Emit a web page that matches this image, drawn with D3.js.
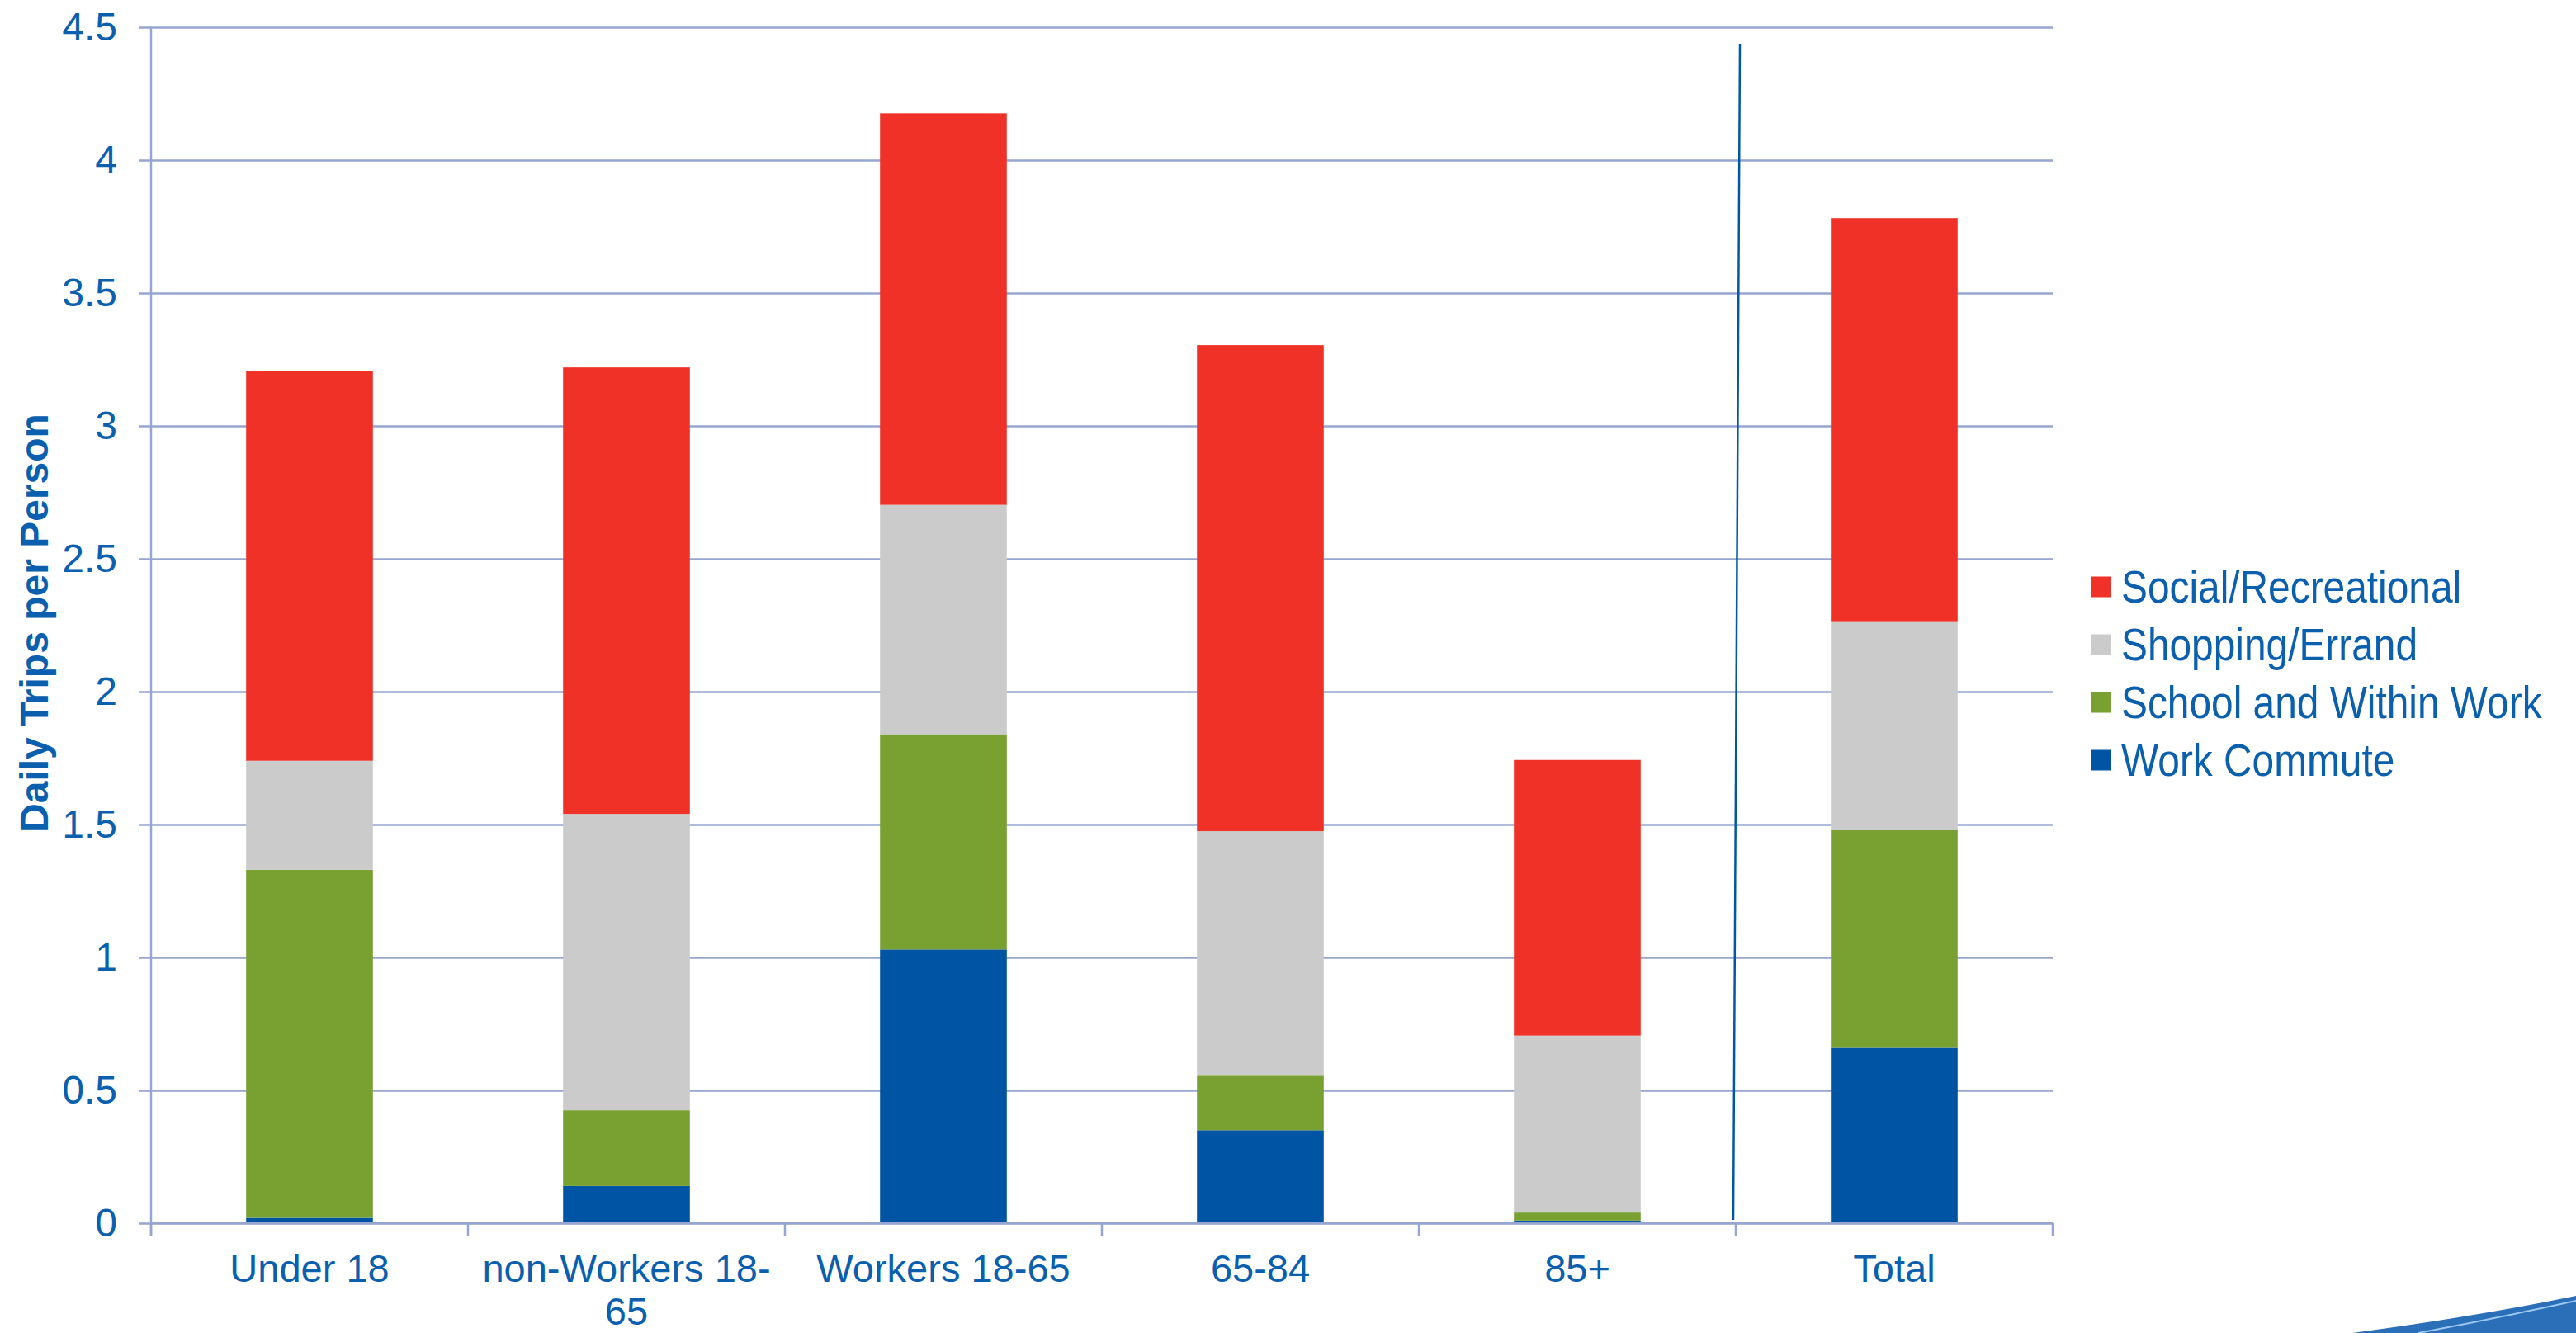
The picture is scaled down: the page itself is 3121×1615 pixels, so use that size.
<!DOCTYPE html>
<html>
<head>
<meta charset="utf-8">
<script src="https://cdn.jsdelivr.net/npm/d3@7"></script>
<style>
  html, body { margin: 0; padding: 0; background: #ffffff; }
  svg { display: block; }
</style>
</head>
<body>
<svg id="chart" width="3121" height="1615"></svg>
<script>
// ---- Data ----
const categories = ["Under 18", "non-Workers 18-65", "Workers 18-65", "65-84", "85+", "Total"];
const seriesNames = ["Work Commute", "School and Within Work", "Shopping/Errand", "Social/Recreational"];
const workCommute       = [0.02, 0.14, 1.03, 0.35, 0.01, 0.66];
const schoolWithinWork  = [1.31, 0.285, 0.81, 0.205, 0.03, 0.82];
const shoppingErrand    = [0.41, 1.115, 0.863, 0.92, 0.666, 0.785];
const socialRecreational= [1.467, 1.68, 1.473, 1.829, 1.037, 1.517];
const yTicks = [0, 0.5, 1, 1.5, 2, 2.5, 3, 3.5, 4, 4.5];
const yTitle = "Daily Trips per Person";

(function () {
const seriesValues = [workCommute, schoolWithinWork, shoppingErrand, socialRecreational];
const colors = ["#0054a4", "#78a132", "#cbcbcb", "#f03127"];
const textColor = "#0a5fae";
const gridColor = "#96a6d1";

const table = categories.map((c, i) => {
  const row = { category: c };
  seriesNames.forEach((s, k) => row[s] = seriesValues[k][i]);
  return row;
});

const svg = d3.select("#chart");
const pLeft = 183, pRight = 2487, pTop = 33, pBottom = 1482;

const x = d3.scaleBand().domain(categories).range([pLeft, pRight]).paddingInner(0.6).paddingOuter(0.3);
const y = d3.scaleLinear().domain([0, 4.5]).range([pBottom, pTop]);
const font = "'Liberation Sans', Arial, sans-serif";

// gridlines + y ticks
const yAxis = d3.axisLeft(y).tickValues(yTicks).tickFormat(d => d3.format("")(d))
  .tickSize(15).tickPadding(26);
const gy = svg.append("g").attr("transform", `translate(${pLeft},0)`).call(yAxis);
gy.select(".domain").remove();
gy.selectAll(".tick line").attr("stroke", gridColor).attr("stroke-width", 2.5)
  .attr("x1", -15).attr("x2", pRight - pLeft);
gy.selectAll(".tick text").attr("fill", textColor).style("font-family", font).style("font-size", "48px");

// y axis line
svg.append("line").attr("x1", pLeft).attr("x2", pLeft).attr("y1", pTop).attr("y2", pBottom + 15)
  .attr("stroke", gridColor).attr("stroke-width", 2.5);

// stacked bars
const stack = d3.stack().keys(seriesNames);
const stacked = stack(table);
svg.append("g").selectAll("g").data(stacked).join("g")
  .attr("fill", (d, i) => colors[i])
  .selectAll("rect").data(d => d).join("rect")
  .attr("x", d => x(d.data.category))
  .attr("width", x.bandwidth())
  .attr("y", d => y(d[1]))
  .attr("height", d => y(d[0]) - y(d[1]));

// x axis baseline and category ticks
const step = x.step();
const bounds = categories.map((c, i) => pLeft + i * (pRight - pLeft) / categories.length).concat([pRight]);
svg.append("line").attr("x1", pLeft).attr("x2", pRight).attr("y1", pBottom).attr("y2", pBottom)
  .attr("stroke", gridColor).attr("stroke-width", 2.5);
svg.append("g").selectAll("line").data(bounds).join("line")
  .attr("x1", d => d).attr("x2", d => d).attr("y1", pBottom).attr("y2", pBottom + 15)
  .attr("stroke", gridColor).attr("stroke-width", 2.5);

// category labels with wrapping
const labelG = svg.append("g");
categories.forEach(c => {
  const cx = x(c) + x.bandwidth() / 2;
  const t = labelG.append("text").attr("x", cx).attr("y", pBottom + 71)
    .attr("text-anchor", "middle").attr("fill", textColor)
    .style("font-family", font).style("font-size", "47px").text(c);
  const maxW = step * 0.98;
  if (t.node().getComputedTextLength() > maxW) {
    let breakAt = -1;
    for (let i = 0; i < c.length; i++) {
      if (c[i] === "-" || c[i] === " ") {
        t.text(c.slice(0, i + 1));
        if (t.node().getComputedTextLength() <= maxW) breakAt = i + 1;
      }
    }
    const l1 = c.slice(0, breakAt).trim(), l2 = c.slice(breakAt).trim();
    t.text(null);
    t.append("tspan").attr("x", cx).attr("dy", 0).text(l1);
    t.append("tspan").attr("x", cx).attr("dy", 52).text(l2);
  }
});

// y axis title
svg.append("text")
  .attr("transform", `translate(58,${(pTop + pBottom) / 2 - 3}) rotate(-90)`)
  .attr("text-anchor", "middle").attr("fill", textColor)
  .style("font-family", font).style("font-size", "48px").style("font-weight", "bold")
  .text(yTitle);

// separator line between 85+ and Total
svg.append("line").attr("x1", 2108).attr("y1", 53).attr("x2", 2100).attr("y2", 1478)
  .attr("stroke", "#0057a8").attr("stroke-width", 2.5);

// legend (reverse order)
const legendOrder = seriesNames.map((s, i) => ({ name: s, color: colors[i] })).reverse();
const lg = svg.append("g");
legendOrder.forEach((d, i) => {
  const cy = 711 + i * 70;
  lg.append("rect").attr("x", 2533).attr("y", cy - 12.5).attr("width", 25).attr("height", 25).attr("fill", d.color);
  lg.append("text").attr("transform", `translate(2570,${cy + 19}) scale(0.87,1)`)
    .attr("fill", textColor).style("font-family", font).style("font-size", "55px").text(d.name);
});

// bottom-right decorative swoosh
svg.append("path")
  .attr("d", "M2850,1615 Q3000,1595 3121,1570 L3121,1615 Z")
  .attr("fill", "#2a6fb7");
svg.append("path")
  .attr("d", "M2930,1615 Q3030,1596 3121,1576")
  .attr("fill", "none").attr("stroke", "#9cc8f0").attr("stroke-width", 2);
})();
</script>
</body>
</html>
